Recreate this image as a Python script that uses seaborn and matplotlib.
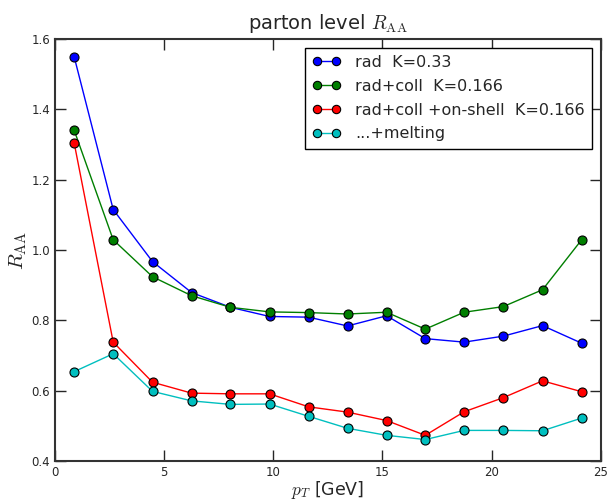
import matplotlib
matplotlib.use("Agg")
import matplotlib.pyplot as plt
import seaborn as sns
import pandas as pd

pt = [0.88, 2.67, 4.47, 6.26, 8.04, 9.83, 11.62, 13.40, 15.19, 16.96, 18.74, 20.53, 22.33, 24.12]
rad = [1.550, 1.115, 0.967, 0.879, 0.837, 0.811, 0.809, 0.784, 0.813, 0.748, 0.738, 0.755, 0.785, 0.735]
rad_coll = [1.341, 1.029, 0.924, 0.870, 0.837, 0.824, 0.822, 0.818, 0.823, 0.775, 0.823, 0.839, 0.887, 1.029]
rad_coll_os = [1.305, 0.738, 0.624, 0.593, 0.591, 0.591, 0.554, 0.539, 0.515, 0.473, 0.540, 0.580, 0.628, 0.597]
melting = [0.654, 0.705, 0.598, 0.571, 0.561, 0.562, 0.527, 0.493, 0.473, 0.461, 0.487, 0.487, 0.486, 0.522]

labels = ["rad  K=0.33", "rad+coll  K=0.166", "rad+coll +on-shell  K=0.166", "...+melting"]
colors = ["#0000ff", "#007f00", "#ff0000", "#00bfbf"]
series = [rad, rad_coll, rad_coll_os, melting]

rows = []
for lab, vals in zip(labels, series):
    for x, y in zip(pt, vals):
        rows.append({"pt": x, "RAA": y, "model": lab})
df = pd.DataFrame(rows)

sns.set_style("ticks")
plt.rcParams["font.family"] = ["DejaVu Sans"]
plt.rcParams.update({
    "xtick.direction": "in", "ytick.direction": "in",
    "xtick.top": True, "ytick.right": True,
    "xtick.major.size": 8, "ytick.major.size": 8,
    "xtick.major.width": 1.0, "ytick.major.width": 1.0,
    "xtick.labelsize": 8.5, "ytick.labelsize": 8.5,
    "axes.linewidth": 1.5, "axes.edgecolor": "#333333",
    "mathtext.fontset": "cm",
})

fig = plt.figure(figsize=(6.1, 5.0), dpi=100)
ax = fig.add_axes([0.090, 0.078, 0.895, 0.844])

sns.lineplot(data=df, x="pt", y="RAA", hue="model", hue_order=labels,
             palette=colors, marker="o", markersize=6.5, markeredgecolor="black",
             markeredgewidth=0.8, linewidth=1.0, ax=ax, sort=False)

ax.set_xlim(0, 25)
ax.set_ylim(0.4, 1.6)
ax.set_xticks([0, 5, 10, 15, 20, 25])
ax.set_yticks([0.4, 0.6, 0.8, 1.0, 1.2, 1.4, 1.6])
ax.set_yticklabels(["0.4", "0.6", "0.8", "1.0", "1.2", "1.4", "1.6"])
ax.set_xlabel(r"$p_T$ [GeV]", fontsize=12.5, labelpad=0)
ax.set_ylabel(r"$R_{\rm AA}$", fontsize=15, labelpad=2)
ax.set_title(r"parton level $R_{\rm AA}$", fontsize=14, pad=7)

handles, labs = ax.get_legend_handles_labels()
leg = ax.legend(handles, labs, loc="upper right", numpoints=2, fontsize=11.5,
                frameon=True, fancybox=False, edgecolor="black", framealpha=1,
                handlelength=1.8, borderaxespad=0.55, labelspacing=0.55,
                borderpad=0.45, handletextpad=0.9)
leg.get_frame().set_linewidth(1.0)
for h in leg.legend_handles:
    h.set_markersize(6)

fig.savefig("out.png", dpi=100)
